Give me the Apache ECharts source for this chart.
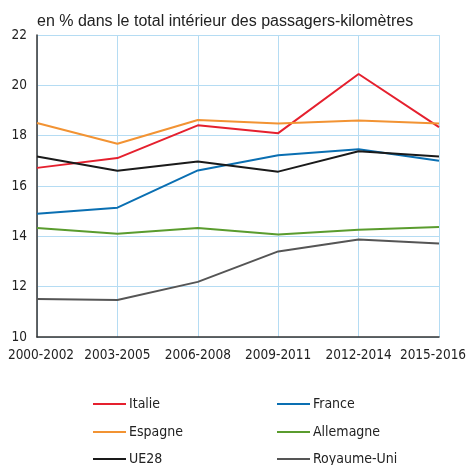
<!DOCTYPE html>
<html><head><meta charset="utf-8">
<script src="https://cdn.jsdelivr.net/npm/echarts@6/dist/echarts.min.js"></script>
<style>html,body{margin:0;padding:0;background:#fff}#c{width:470px;height:465px}</style>
</head><body><div id="c"></div>
<script>
const categories = ['2000-2002','2003-2005','2006-2008','2009-2011','2012-2014','2015-2016'];
const italie = [16.72, 17.11, 18.41, 18.1, 20.45, 18.34];
const france = [14.9, 15.14, 16.62, 17.22, 17.46, 17.0];
const espagne = [18.5, 17.68, 18.62, 18.48, 18.6, 18.48];
const allemagne = [14.33, 14.1, 14.33, 14.07, 14.26, 14.37];
const ue28 = [17.17, 16.61, 16.97, 16.57, 17.38, 17.17];
const royaumeUni = [11.51, 11.47, 12.19, 13.4, 13.87, 13.72];
const yTicks = {min: 10, max: 22, interval: 2};
const title = 'en % dans le total intérieur des passagers-kilomètres';

const FONT = '"DejaVu Sans Condensed", "Liberation Sans", Arial, sans-serif';
const TFONT = '"Liberation Sans", Arial, sans-serif';
const colors = {Italie:'#e5202e', France:'#0a6fb2', Espagne:'#f29333', Allemagne:'#5a9c2e', UE28:'#1a1a1a', 'Royaume-Uni':'#555555'};
const mk = (name, data) => ({name, type:'line', data, symbol:'none', lineStyle:{width:2, color:colors[name]}, itemStyle:{color:colors[name]}});

const catData = categories.map((c, i) => {
  if (i === 0) return {value:c, textStyle:{padding:[0,0,0,8]}};
  if (i === categories.length - 1) return {value:c, textStyle:{padding:[0,12,0,0]}};
  return c;
});
const legendPos = [['Italie',93,397],['Espagne',93,425],['UE28',93,452],['France',277,397],['Allemagne',277,425],['Royaume-Uni',277,452]];
const chart = echarts.init(document.getElementById('c'), null, {renderer:'canvas'});
chart.setOption({
  animation:false,
  textStyle:{fontFamily:FONT},
  title:{text:title, left:32, top:9, textStyle:{fontFamily:TFONT, fontSize:16, fontWeight:'normal', color:'#222'}},
  grid:{left:37, right:31, top:35, bottom:128, containLabel:false, outerBoundsMode:'none'},
  xAxis:{type:'category', data:catData, boundaryGap:false,
    axisLine:{lineStyle:{color:'#333', width:1.5}}, axisTick:{show:false},
    axisLabel:{fontFamily:FONT, fontSize:13.5, color:'#222', margin:11, interval:0},
    splitLine:{show:true, lineStyle:{color:'#b5dcf3', width:1}}},
  yAxis:{type:'value', min:yTicks.min, max:yTicks.max, interval:yTicks.interval,
    axisLine:{show:true, lineStyle:{color:'#333', width:1.5}}, axisTick:{show:false},
    axisLabel:{fontFamily:FONT, fontSize:13.5, color:'#222', margin:10},
    splitLine:{show:true, lineStyle:{color:'#b5dcf3', width:1}}},
  legend: legendPos.map(([n,x,y]) => ({left:x, top:y, padding:0, data:[n], icon:'rect', itemWidth:33, itemHeight:2,
    textStyle:{fontFamily:FONT, fontSize:14, color:'#222', padding:[0,0,0,-2]}})),
  series:[mk('Italie',italie), mk('France',france), mk('Espagne',espagne), mk('Allemagne',allemagne), mk('UE28',ue28), mk('Royaume-Uni',royaumeUni)]
});
</script></body></html>
